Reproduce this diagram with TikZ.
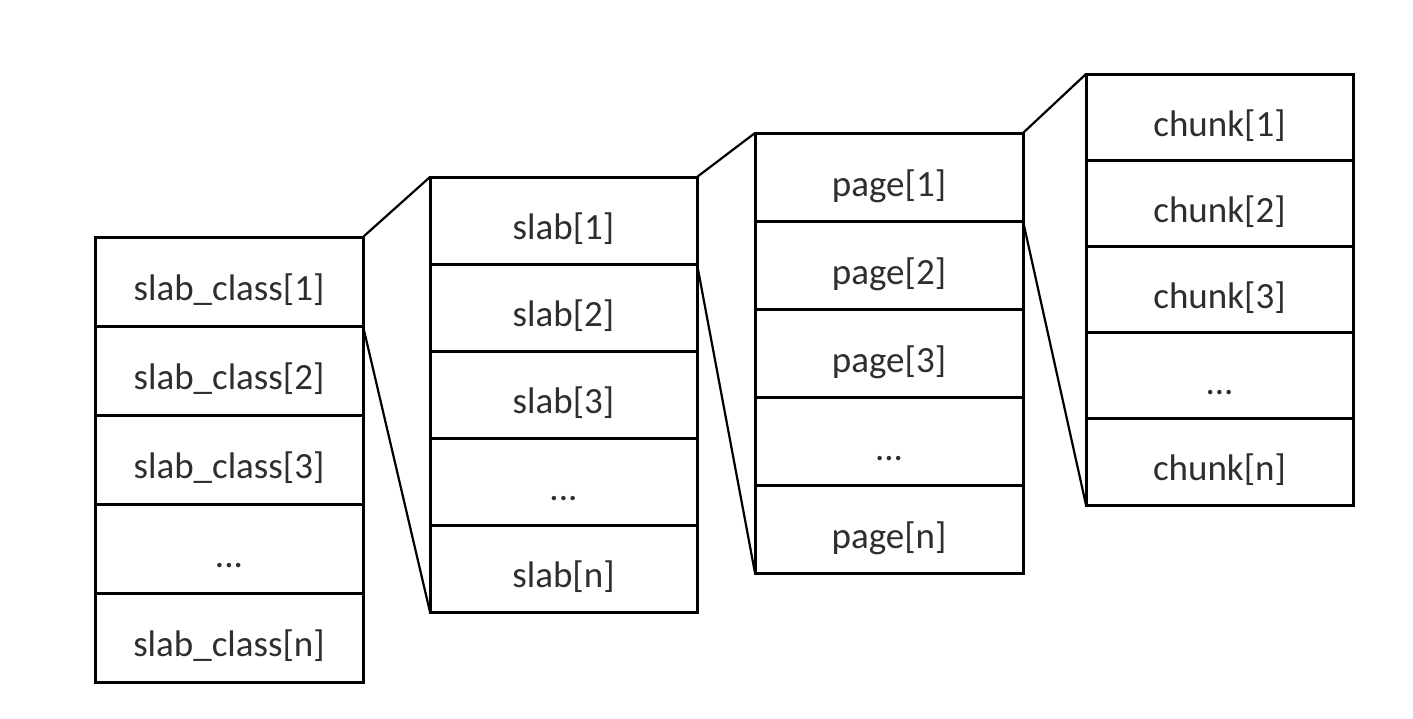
\documentclass[tikz,border=0pt]{standalone}
\usepackage{fontspec}
\setmainfont{Carlito}
\newcommand\cellgap{...}
\begin{document}
\begin{tikzpicture}[x=1pt,y=-1pt,
  cell/.style={draw=black, line width=3pt, anchor=north west, inner sep=0pt, outer sep=0pt,
    text=black!82, font=\fontsize{37}{42}\selectfont, text height=40pt, text depth=2pt},
  link/.style={draw=black, line width=2.2pt}]
\useasboundingbox (0,0) rectangle (1413,718);
% slab classes
\foreach \lab [count=\k] in {slab\_class[1],slab\_class[2],slab\_class[3],\cellgap,slab\_class[n]}
  \node[cell, minimum width=268pt, minimum height=89pt] (sc\k) at (95,{237+(\k-1)*89}) {\lab};
% slabs
\foreach \lab [count=\k] in {slab[1],slab[2],slab[3],\cellgap,slab[n]}
  \node[cell, minimum width=267pt, minimum height=87pt] (sl\k) at (430,{177+(\k-1)*87}) {\lab};
% pages
\foreach \lab [count=\k] in {page[1],page[2],page[3],\cellgap,page[n]}
  \node[cell, minimum width=268pt, minimum height=88pt] (pg\k) at (755,{133+(\k-1)*88}) {\lab};
% chunks
\foreach \lab [count=\k] in {chunk[1],chunk[2],chunk[3],\cellgap,chunk[n]}
  \node[cell, minimum width=267pt, minimum height=86.2pt] (ch\k) at (1086,{74+(\k-1)*86.2}) {\lab};
% expansion lines
\draw[link] (sc1.north east) -- (sl1.north west);
\draw[link] (sc1.south east) -- (sl5.south west);
\draw[link] (sl1.north east) -- (pg1.north west);
\draw[link] (sl1.south east) -- (pg5.south west);
\draw[link] (pg1.north east) -- (ch1.north west);
\draw[link] (pg1.south east) -- (ch5.south west);
\end{tikzpicture}
\end{document}
